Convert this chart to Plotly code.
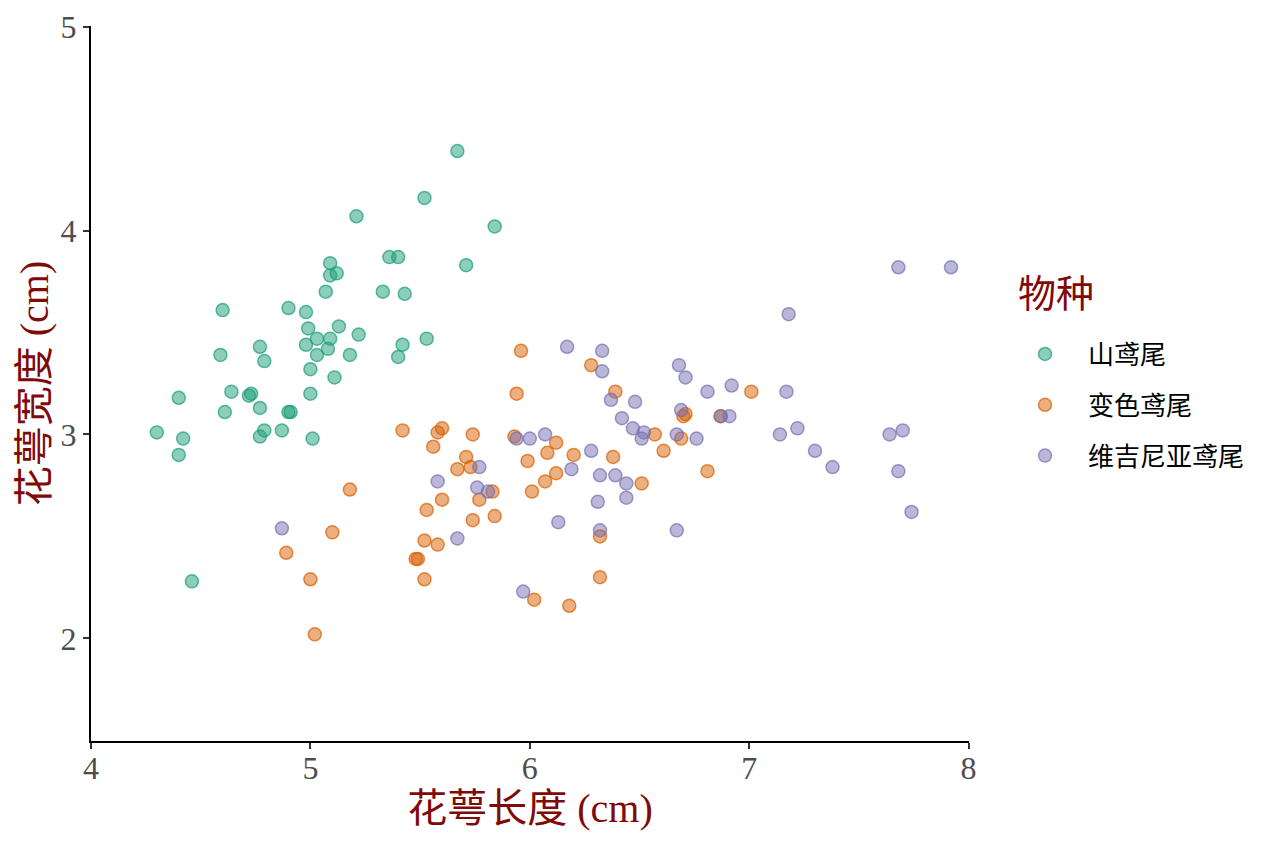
import plotly.graph_objects as go

# sepal length / width, per species
setosa_x = [5.67, 5.52, 5.21, 5.84, 5.09, 5.09, 5.12, 5.36, 5.40, 5.71,
            5.07, 5.33, 5.43, 4.60, 4.90, 4.98, 4.99, 5.13, 5.03, 5.09,
            5.22, 5.53, 4.77, 4.98, 5.42, 4.59, 4.79, 5.03, 5.08, 5.18,
            5.40, 5.00, 5.11, 4.40, 4.64, 4.73, 4.72, 5.00, 4.61, 4.77,
            4.90, 4.91, 4.30, 4.42, 4.40, 4.79, 4.77, 4.87, 5.01, 4.46]
setosa_y = [4.39, 4.16, 4.07, 4.02, 3.84, 3.78, 3.79, 3.87, 3.87, 3.83,
            3.70, 3.70, 3.69, 3.61, 3.62, 3.60, 3.52, 3.53, 3.47, 3.47,
            3.49, 3.47, 3.43, 3.44, 3.44, 3.39, 3.36, 3.39, 3.42, 3.39,
            3.38, 3.32, 3.28, 3.18, 3.21, 3.20, 3.19, 3.20, 3.11, 3.13,
            3.11, 3.11, 3.01, 2.98, 2.90, 3.02, 2.99, 3.02, 2.98, 2.28]

versicolor_x = [5.42, 5.58, 5.60, 5.74, 5.93, 5.56, 5.71, 5.67, 5.73, 5.99,
                5.18, 5.60, 5.77, 5.83, 6.01, 5.53, 5.74, 5.84, 5.10, 4.89,
                5.52, 5.58, 5.48, 5.49, 5.00, 5.52, 5.02, 6.12, 6.08, 6.20,
                6.38, 6.61, 6.57, 6.69, 6.12, 6.07, 6.51, 6.32, 6.32, 6.02,
                6.18, 5.96, 6.28, 5.94, 6.39, 7.01, 6.71, 6.70, 6.87, 6.81]
versicolor_y = [3.02, 3.01, 3.03, 3.00, 2.99, 2.94, 2.89, 2.83, 2.84, 2.87,
                2.73, 2.68, 2.68, 2.72, 2.72, 2.63, 2.58, 2.60, 2.52, 2.42,
                2.48, 2.46, 2.39, 2.39, 2.29, 2.29, 2.02, 2.96, 2.91, 2.90,
                2.89, 2.92, 3.00, 2.98, 2.81, 2.77, 2.76, 2.50, 2.30, 2.19,
                2.16, 3.41, 3.34, 3.20, 3.21, 3.21, 3.10, 3.09, 3.09, 2.82]

virginica_x = [5.94, 5.77, 5.58, 5.76, 5.81, 4.87, 5.67, 5.97, 6.00, 6.07,
               6.28, 6.19, 6.32, 6.39, 6.44, 6.42, 6.47, 6.52, 6.51, 6.67,
               6.76, 6.31, 6.44, 6.13, 6.32, 6.67, 6.17, 6.33, 6.33, 6.68,
               6.71, 6.81, 6.92, 6.37, 6.48, 6.69, 6.87, 6.91, 7.68, 7.92,
               7.18, 7.17, 7.14, 7.22, 7.30, 7.38, 7.64, 7.70, 7.68, 7.74]
virginica_y = [2.98, 2.84, 2.77, 2.74, 2.72, 2.54, 2.49, 2.23, 2.98, 3.00,
               2.92, 2.83, 2.80, 2.80, 2.76, 3.08, 3.03, 3.01, 2.98, 3.00,
               2.98, 2.67, 2.69, 2.57, 2.53, 2.53, 3.43, 3.41, 3.31, 3.34,
               3.28, 3.21, 3.24, 3.17, 3.16, 3.12, 3.09, 3.09, 3.82, 3.82,
               3.59, 3.21, 3.00, 3.03, 2.92, 2.84, 3.00, 3.02, 2.82, 2.62]

species = ['山鸢尾', '变色鸢尾', '维吉尼亚鸢尾']

FONT = 'Liberation Serif, Times New Roman, Noto Sans CJK SC, serif'
TITLE_RED = '#7F0A0A'

series = [
    (species[0], setosa_x, setosa_y, (27, 158, 119)),
    (species[1], versicolor_x, versicolor_y, (217, 95, 2)),
    (species[2], virginica_x, virginica_y, (117, 112, 179)),
]

fig = go.Figure()

for name, xs, ys, (r, g, b) in series:
    fig.add_trace(go.Scatter(
        x=xs,
        y=ys,
        mode='markers',
        name=name,
        legendgroup=name,
        marker=dict(
            size=13,
            color=f'rgba({r},{g},{b},0.5)',
            line=dict(color=f'rgba({r},{g},{b},0.7)', width=1.5),
        ),
    ))

axis_style = dict(
    dtick=1,
    showgrid=False,
    zeroline=False,
    showline=True,
    linecolor='black',
    linewidth=2,
    ticks='outside',
    ticklen=6,
    tickwidth=2,
    tickcolor='#333333',
    ticklabeloverflow='allow',
    automargin=False,
    tickfont=dict(family=FONT, size=32, color='#4D4D4D'),
)

fig.update_layout(
    width=1264,
    height=843,
    plot_bgcolor='white',
    paper_bgcolor='white',
    margin=dict(l=83, r=303, t=18, b=110),
    font=dict(family=FONT, size=28, color='#4D4D4D'),
    xaxis=dict(
        range=[4, 8.002],
        ticklabelstandoff=-8,
        title=dict(text='花萼长度 (cm)',
                   font=dict(family=FONT, size=40, color=TITLE_RED),
                   standoff=0),
        **axis_style,
    ),
    yaxis=dict(
        range=[1.497, 5.003],
        title=dict(text='花萼宽度 (cm)',
                   font=dict(family=FONT, size=40, color=TITLE_RED),
                   standoff=0),
        **axis_style,
    ),
    legend=dict(
        x=1.0376,
        y=0.574,
        xanchor='left',
        yanchor='top',
        itemwidth=76,
        traceorder='grouped',
        tracegroupgap=14,
        font=dict(family=FONT, size=26, color='black'),
        bgcolor='rgba(0,0,0,0)',
    ),
)

# legend heading placed as its own text so the gap to the items matches
fig.add_annotation(
    text='物种',
    xref='paper', yref='paper',
    x=1.054, y=0.625,
    xanchor='left', yanchor='middle',
    showarrow=False,
    font=dict(family=FONT, size=38, color=TITLE_RED),
)

fig.write_html('out.html')
